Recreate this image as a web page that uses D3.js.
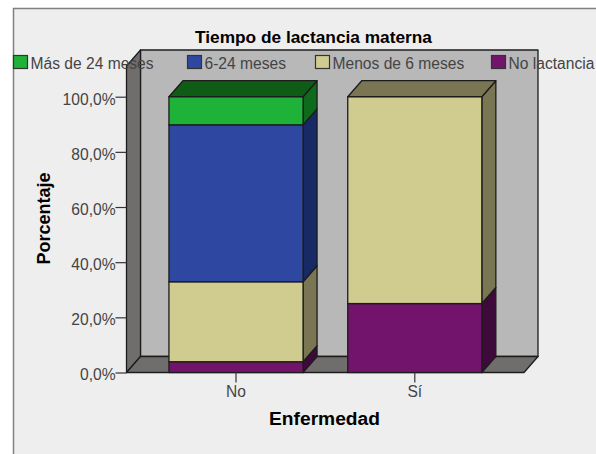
<!DOCTYPE html>
<html><head><meta charset="utf-8">
<script src="https://cdn.jsdelivr.net/npm/d3@7"></script>
<style>html,body{margin:0;padding:0;background:#fff}svg{display:block}text{font-family:"Liberation Sans",Arial,sans-serif}</style>
</head><body><svg id="c" width="596" height="454"></svg>
<script>
const categories = ["No", "Sí"];
const seriesNames = ["Más de 24 meses", "6-24 meses", "Menos de 6 meses", "No lactancia"];
const noValues = [10.2, 56.9, 29, 3.9];
const siValues = [0, 0, 75, 25];
const yTicks = [0, 20, 40, 60, 80, 100];
const seriesColors = ["#1fb239", "#2e48a2", "#d0cb8f", "#72146c"];
const topColors = ["#0f5c16", "#182a66", "#7a7552", "#3e0a3b"];
const sideColors = ["#0f6b1c", "#182a66", "#7a7552", "#3e0a3b"];
const legendX = [13.5, 187.5, 315.5, 491.5];

const svg = d3.select("#c");
const dx = 14, dy = 16;
const left = 126.5, right = 524, floorY = 372.5, topY = 66;
const y = d3.scaleLinear().domain([0, 100]).range([floorY, 96.7]);
const x = d3.scaleBand().domain(categories).range([146.6, 504.2]).paddingInner(0.25).paddingOuter(0.125);
const stroke = "#1c1c1c";
const poly = (pts, fill, sw = 1.3) => svg.append("polygon").attr("points", pts.map(p => p.join(",")).join(" "))
  .attr("fill", fill).attr("stroke", stroke).attr("stroke-width", sw).attr("stroke-linejoin", "round");

// frame
svg.append("rect").attr("x", 13).attr("y", 8).attr("width", 583).attr("height", 446).attr("fill", "#eeeeee");
svg.append("path").attr("d", "M13.5,454V8.5H596").attr("fill", "none").attr("stroke", "#808080").attr("stroke-width", 1.5);

// 3D walls
poly([[left + dx, topY - dy], [right + dx, topY - dy], [right + dx, floorY - dy], [left + dx, floorY - dy]], "#b8b8b8");
poly([[left, topY], [left + dx, topY - dy], [left + dx, floorY - dy], [left, floorY]], "#6f6e6c");
poly([[left, floorY], [left + dx, floorY - dy], [right + dx, floorY - dy], [right, floorY]], "#6f6e6c");

// stacked bars, bottom segment first
const rows = categories.map((c, i) => ({ c, vals: i === 0 ? noValues : siValues }));
rows.forEach(r => {
  const bx = x(r.c), w = x.bandwidth();
  let cum = 0;
  const segs = [];
  for (let s = seriesNames.length - 1; s >= 0; s--) {
    if (r.vals[s] > 0) { segs.push({ s, y0: cum, y1: cum + r.vals[s] }); cum += r.vals[s]; }
  }
  segs.forEach((g, i) => {
    const yb = y(g.y0), yt = y(g.y1);
    poly([[bx + w, yb], [bx + w + dx, yb - dy], [bx + w + dx, yt - dy], [bx + w, yt]], sideColors[g.s]);
    svg.append("rect").attr("x", bx).attr("y", yt).attr("width", w).attr("height", yb - yt)
      .attr("fill", seriesColors[g.s]).attr("stroke", stroke).attr("stroke-width", 1.3);
    if (i === segs.length - 1) {
      poly([[bx, yt], [bx + dx, yt - dy], [bx + w + dx, yt - dy], [bx + w, yt]], topColors[g.s]);
    }
  });
});

// axes
const yAxis = svg.append("g").attr("transform", `translate(${left},0)`)
  .call(d3.axisLeft(y).tickValues(yTicks).tickSize(11).tickPadding(0).tickFormat(d => d.toFixed(1).replace(".", ",") + "%"));
const xAxis = svg.append("g").attr("transform", `translate(0,${floorY})`)
  .call(d3.axisBottom(x).tickSize(10).tickPadding(3));
[yAxis, xAxis].forEach(a => {
  a.select(".domain").remove();
  a.selectAll("line").attr("stroke", "#333").attr("stroke-width", 1.2);
  a.selectAll("text").attr("fill", "#444").style("font-size", "15.6px").style("font-family", '"Liberation Sans",Arial,sans-serif');
});
yAxis.selectAll("text").attr("dy", "0.47em");

// titles
svg.append("text").attr("x", 313.5).attr("y", 42.5).attr("text-anchor", "middle").attr("fill", "#000")
  .style("font-size", "17.3px").style("font-weight", "bold").text("Tiempo de lactancia materna");
svg.append("text").attr("x", 324.5).attr("y", 425).attr("text-anchor", "middle").attr("fill", "#000")
  .style("font-size", "19.2px").style("font-weight", "bold").text("Enfermedad");
svg.append("text").attr("transform", "translate(49.5,218.5) rotate(-90)").attr("text-anchor", "middle").attr("fill", "#000")
  .style("font-size", "18px").style("font-weight", "bold").text("Porcentaje");

// legend, over the plot
seriesNames.forEach((n, i) => {
  svg.append("rect").attr("x", legendX[i]).attr("y", 55.5).attr("width", 14).attr("height", 13)
    .attr("fill", seriesColors[i]).attr("stroke", "#333").attr("stroke-width", 1.2);
  svg.append("text").attr("x", legendX[i] + 17).attr("y", 69).attr("fill", "#444")
    .style("font-size", "15.6px").text(n);
});
</script></body></html>
